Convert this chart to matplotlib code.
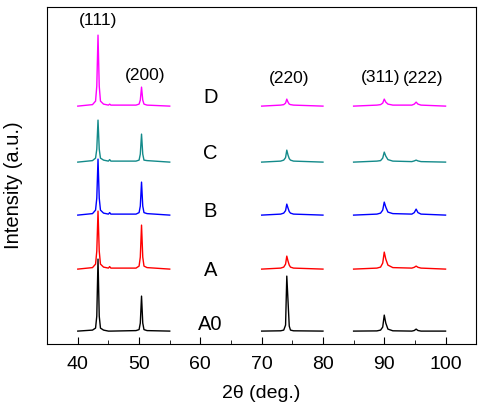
import matplotlib
matplotlib.use('Agg')
import matplotlib.pyplot as plt
from matplotlib.ticker import MultipleLocator

plt.rcParams['font.family'] = ['Liberation Sans', 'DejaVu Sans']

# sample names, colours, vertical offsets and label heights
samples = ['A0', 'A', 'B', 'C', 'D']
colors = ['black', '#ff0000', '#0000ff', '#138a8a', '#ff00ff']
offsets = [13, 75, 129, 182, 238]
label_y = [21, 75, 134, 192, 248]

# 2theta points of the three measured windows
x1 = [40, 42.4, 42.9, 43.1, 43.3, 43.5, 43.7, 44.2, 45.0, 45.2, 45.4,
      49.5, 50.0, 50.2, 50.4, 50.6, 50.8, 51.3, 55]
x2 = [70, 73.1, 73.6, 73.9, 74.1, 74.3, 74.5, 74.7, 75.2, 80]
x3 = [85, 88.8, 89.4, 89.75, 90.0, 90.25, 90.6, 91.4, 94.5, 94.9, 95.2, 95.5, 96.0, 100]

# intensities above each baseline
y1 = {
    'A0': [0, 1, 3, 15, 72, 15, 3, 1, 0, 0, 0, 0.5, 1.5, 8, 35, 8, 1.5, 0.5, 0],
    'A': [0, 1.5, 5, 18, 58, 18, 5, 2, 1, 2.5, 1, 1, 3, 12, 44, 12, 3, 1.5, 0],
    'B': [0, 1.5, 5, 17, 56, 17, 5, 2, 1, 2.5, 1, 1, 2.5, 9, 33, 9, 2.5, 1.5, 0],
    'C': [0, 1.5, 4, 13, 42, 13, 4, 2, 1, 2.5, 1, 1, 2, 8, 28, 8, 2, 1.5, 0],
    'D': [0, 1.5, 5, 20, 71, 20, 5, 2, 1, 2, 1, 1, 2, 6, 19, 6, 2, 1, 0],
}
y2 = {
    'A0': [0, 0.3, 1, 6, 55, 30, 5, 1, 0.3, 0],
    'A': [0, 1, 2, 5, 13, 8, 4, 2, 1, 0],
    'B': [0, 1, 2, 4.5, 11, 7, 3.5, 2, 1, 0],
    'C': [0, 1, 2, 4.5, 12, 7, 3.5, 2, 1, 0],
    'D': [0, 1, 1.5, 3, 7, 4, 2, 1.5, 1, 0],
}
y3 = {
    'A0': [0, 0.2, 1, 4, 16, 8, 2, 0.3, 0, 0.6, 2, 0.6, 0, 0],
    'A': [0, 1, 2, 6, 17, 10, 4, 1.5, 1, 1.8, 3, 1.8, 1, 0],
    'B': [0, 1, 2, 5, 13, 8, 3, 1.5, 1, 2.5, 6, 2.5, 1, 0],
    'C': [0, 1, 1.5, 4, 10, 6, 2.5, 1, 0.5, 1.2, 2, 1.2, 0.5, 0],
    'D': [0, 1, 1.5, 3, 7, 4, 2, 1, 1, 2, 4, 2, 1, 0],
}

peak_labels = ['(111)', '(200)', '(220)', '(311)', '(222)']
peak_label_x = [43.3, 51.0, 74.5, 89.4, 96.3]
peak_label_y = [325, 270, 267, 268, 267]

fig = plt.figure(figsize=(4.81, 4.06), dpi=100)
ax = fig.add_axes([0.098, 0.150, 0.892, 0.830])

for name, c, off, ly in zip(samples, colors, offsets, label_y):
    for xs, ys in [(x1, y1), (x2, y2), (x3, y3)]:
        ax.plot(xs, [v + off for v in ys[name]], color=c, lw=1.0)
    ax.text(61.6, ly, name, fontsize=14.5, ha='center', va='center')

for lab, lx, ly in zip(peak_labels, peak_label_x, peak_label_y):
    ax.text(lx, ly, lab, fontsize=12.5, ha='center', va='center')

ax.set_xlim(35, 105)
ax.set_ylim(0, 337)
ax.set_yticks([])
ax.xaxis.set_major_locator(MultipleLocator(10))
ax.xaxis.set_minor_locator(MultipleLocator(5))
ax.tick_params(axis='x', which='both', direction='in', labelsize=14, pad=8)
ax.tick_params(axis='x', which='major', length=5)
ax.tick_params(axis='x', which='minor', length=3)
ax.set_xticks([40, 50, 60, 70, 80, 90, 100])
ax.set_xlabel('2θ (deg.)', fontsize=14)
ax.set_ylabel('Intensity (a.u.)', fontsize=14.5)
ax.xaxis.set_label_coords(0.5, -0.118)
ax.yaxis.set_label_coords(-0.056, 0.475)

fig.savefig('out.png', dpi=100)
